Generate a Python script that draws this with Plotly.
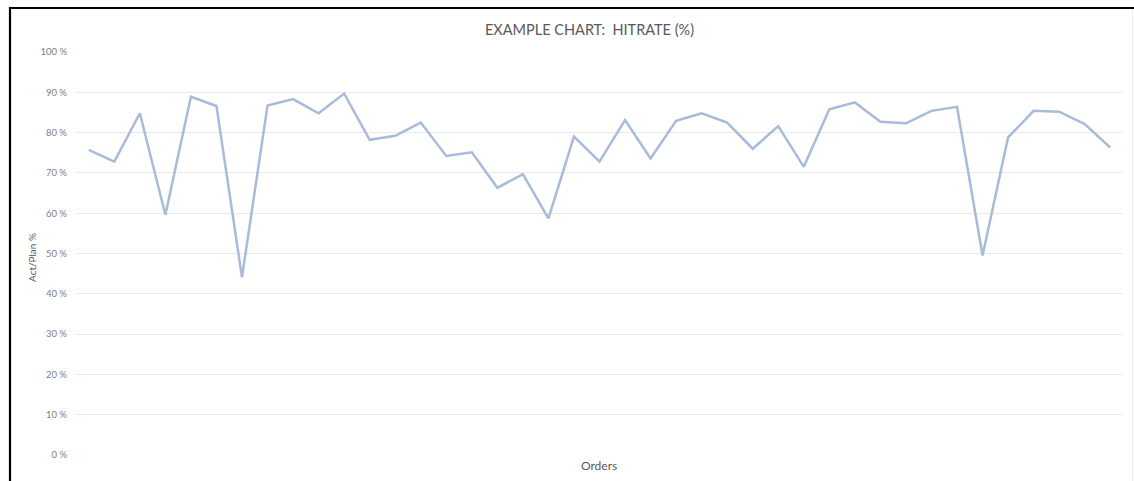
import plotly.graph_objects as go

orders = [f"Order {i}" for i in range(1, 42)]
hitrate = [75.7, 72.8, 84.8, 59.6, 88.9, 86.6, 44.1, 86.7, 88.3, 84.8,
           89.7, 78.2, 79.2, 82.5, 74.2, 75.1, 66.3, 69.7, 58.7, 79.0,
           72.8, 83.1, 73.6, 82.9, 84.8, 82.5, 76.0, 81.6, 71.5, 85.8,
           87.5, 82.7, 82.3, 85.4, 86.4, 49.5, 78.8, 85.4, 85.2, 82.1, 76.3]
y_ticks = list(range(0, 101, 10))
y_tick_labels = [f"{v} %" for v in y_ticks]

W, H = 1134, 481
L, R, T, B = 76, 11, 52, 26
pw, ph = W - L - R, H - T - B

def px_x(x):
    return (x - L) / pw

def px_y(y):
    return (H - B - y) / ph

fig = go.Figure()
fig.add_trace(go.Scatter(
    x=orders, y=hitrate, mode="lines",
    line=dict(color="#a8bbdb", width=2.5),
    showlegend=False,
))

font_family = "Lato, 'Open Sans', sans-serif"

fig.update_layout(
    width=W, height=H,
    margin=dict(l=L, r=R, t=T, b=B),
    paper_bgcolor="white", plot_bgcolor="white",
    font=dict(family=font_family, color="#7f7f7f"),
    xaxis=dict(
        type="category", range=[-0.5, len(orders) - 0.5],
        showticklabels=False, showgrid=False, zeroline=False,
        showline=False, ticks="",
    ),
    yaxis=dict(
        range=[0, 100], tickvals=y_ticks, ticktext=y_tick_labels,
        showgrid=True, gridcolor="#e9e9e9", gridwidth=1,
        zeroline=False, showline=False, ticks="",
        tickfont=dict(size=9.5, color="#808080", family=font_family),
        ticklabelstandoff=8,
    ),
    annotations=[
        dict(text="EXAMPLE CHART:  HITRATE (%)", x=px_x(589.5), y=px_y(30),
             xref="paper", yref="paper", xanchor="center", yanchor="middle",
             showarrow=False, font=dict(size=14.5, color="#595959", family=font_family)),
        dict(text="Act/Plan %", x=px_x(32), y=px_y(258), textangle=-90,
             xref="paper", yref="paper", xanchor="center", yanchor="middle",
             showarrow=False, font=dict(size=10, color="#595959", family=font_family)),
        dict(text="Orders", x=px_x(599), y=px_y(466),
             xref="paper", yref="paper", xanchor="center", yanchor="middle",
             showarrow=False, font=dict(size=12, color="#595959", family=font_family)),
    ],
    shapes=[
        dict(type="line", xref="paper", yref="paper",
             x0=px_x(9), x1=px_x(1134), y0=px_y(8), y1=px_y(8),
             line=dict(color="black", width=2.2)),
        dict(type="line", xref="paper", yref="paper",
             x0=px_x(10), x1=px_x(10), y0=px_y(7), y1=px_y(481),
             line=dict(color="black", width=2.2)),
        dict(type="line", xref="paper", yref="paper",
             x0=px_x(1132.5), x1=px_x(1132.5), y0=px_y(9), y1=px_y(481),
             line=dict(color="#ececec", width=1)),
    ],
)

fig.write_html("out.html")
